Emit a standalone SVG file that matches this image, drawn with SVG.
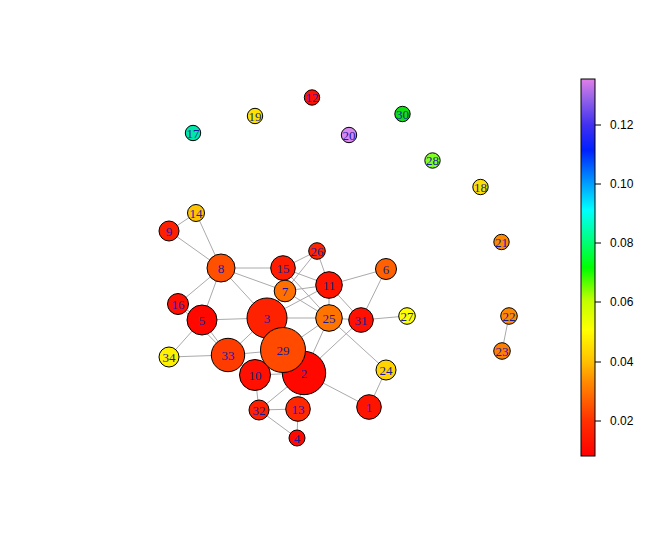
<svg xmlns="http://www.w3.org/2000/svg" width="650" height="550" viewBox="0 0 650 550">
<defs>
<linearGradient id="pal" gradientUnits="userSpaceOnUse" x1="0" y1="456" x2="0" y2="79">
<stop offset="0" stop-color="#ff0000"/>
<stop offset="0.093" stop-color="#ff3000"/>
<stop offset="0.202" stop-color="#ff9000"/>
<stop offset="0.249" stop-color="#ffc000"/>
<stop offset="0.334" stop-color="#ffff00"/>
<stop offset="0.414" stop-color="#c0ff00"/>
<stop offset="0.499" stop-color="#00ff00"/>
<stop offset="0.573" stop-color="#00ff80"/>
<stop offset="0.653" stop-color="#00ffff"/>
<stop offset="0.721" stop-color="#00a0ff"/>
<stop offset="0.812" stop-color="#0020ff"/>
<stop offset="0.878" stop-color="#4030f0"/>
<stop offset="0.944" stop-color="#9060e8"/>
<stop offset="1" stop-color="#e080e8"/>
</linearGradient>
<style>
.e line{stroke:#aaaaaa;stroke-width:1}
.n circle{stroke:#000;stroke-width:1}
.n text{font-family:"Liberation Serif","Times New Roman",serif;font-size:13px;fill:#1a1aa0;text-anchor:middle}
.tk{stroke:#000;stroke-width:1}
.lb{font-family:"Liberation Sans",Arial,sans-serif;font-size:12px;fill:#000}
</style>
</defs>
<rect width="650" height="550" fill="#fff"/>
<g id="edges" class="e">
<line x1="169" y1="231" x2="196" y2="213"/>
<line x1="169" y1="231" x2="221" y2="268"/>
<line x1="196" y1="213" x2="221" y2="268"/>
<line x1="221" y1="268" x2="283" y2="268"/>
<line x1="221" y1="268" x2="285" y2="291"/>
<line x1="221" y1="268" x2="267" y2="318"/>
<line x1="221" y1="268" x2="178" y2="304"/>
<line x1="221" y1="268" x2="202" y2="320"/>
<line x1="178" y1="304" x2="202" y2="320"/>
<line x1="202" y1="320" x2="267" y2="318"/>
<line x1="202" y1="320" x2="228" y2="355"/>
<line x1="178" y1="304" x2="228" y2="355"/>
<line x1="169" y1="357" x2="202" y2="320"/>
<line x1="169" y1="357" x2="228" y2="355"/>
<line x1="228" y1="355" x2="267" y2="318"/>
<line x1="228" y1="355" x2="283" y2="350"/>
<line x1="228" y1="355" x2="255" y2="375"/>
<line x1="255" y1="375" x2="283" y2="350"/>
<line x1="255" y1="375" x2="304" y2="373"/>
<line x1="255" y1="375" x2="259" y2="410"/>
<line x1="259" y1="410" x2="304" y2="373"/>
<line x1="259" y1="410" x2="298" y2="409"/>
<line x1="259" y1="410" x2="297" y2="438"/>
<line x1="298" y1="409" x2="297" y2="438"/>
<line x1="298" y1="409" x2="304" y2="373"/>
<line x1="304" y1="373" x2="369" y2="407"/>
<line x1="369" y1="407" x2="386" y2="370"/>
<line x1="283" y1="350" x2="304" y2="373"/>
<line x1="283" y1="350" x2="267" y2="318"/>
<line x1="283" y1="350" x2="329" y2="318"/>
<line x1="329" y1="318" x2="304" y2="373"/>
<line x1="361" y1="320" x2="304" y2="373"/>
<line x1="267" y1="318" x2="329" y2="318"/>
<line x1="267" y1="318" x2="285" y2="291"/>
<line x1="267" y1="318" x2="329" y2="285"/>
<line x1="283" y1="268" x2="317" y2="251"/>
<line x1="283" y1="268" x2="329" y2="285"/>
<line x1="283" y1="268" x2="329" y2="318"/>
<line x1="283" y1="268" x2="285" y2="291"/>
<line x1="285" y1="291" x2="317" y2="251"/>
<line x1="285" y1="291" x2="329" y2="285"/>
<line x1="285" y1="291" x2="329" y2="318"/>
<line x1="317" y1="251" x2="329" y2="285"/>
<line x1="329" y1="285" x2="329" y2="318"/>
<line x1="329" y1="285" x2="386" y2="269"/>
<line x1="329" y1="285" x2="361" y2="320"/>
<line x1="386" y1="269" x2="361" y2="320"/>
<line x1="329" y1="318" x2="361" y2="320"/>
<line x1="361" y1="320" x2="407" y2="316"/>
<line x1="329" y1="318" x2="386" y2="370"/>
<line x1="509" y1="316" x2="502" y2="351"/>
</g>
<g id="n1" class="n"><circle cx="369" cy="407" r="12.3" fill="#ff1400"/><text x="369" y="407" dy="0.35em">1</text></g>
<g id="n2" class="n"><circle cx="304" cy="373" r="21.7" fill="#ff0800"/><text x="304" y="373" dy="0.35em">2</text></g>
<g id="n3" class="n"><circle cx="267" cy="318" r="20" fill="#ff2200"/><text x="267" y="318" dy="0.35em">3</text></g>
<g id="n4" class="n"><circle cx="297" cy="438" r="8" fill="#ff0a00"/><text x="297" y="438" dy="0.35em">4</text></g>
<g id="n5" class="n"><circle cx="202" cy="320" r="15" fill="#ff0800"/><text x="202" y="320" dy="0.35em">5</text></g>
<g id="n6" class="n"><circle cx="386" cy="269" r="10.5" fill="#ff6000"/><text x="386" y="269" dy="0.35em">6</text></g>
<g id="n7" class="n"><circle cx="285" cy="291" r="10.8" fill="#ff7000"/><text x="285" y="291" dy="0.35em">7</text></g>
<g id="n8" class="n"><circle cx="221" cy="268" r="14" fill="#ff5000"/><text x="221" y="268" dy="0.35em">8</text></g>
<g id="n9" class="n"><circle cx="169" cy="231" r="10" fill="#ff2000"/><text x="169" y="231" dy="0.35em">9</text></g>
<g id="n10" class="n"><circle cx="255" cy="375" r="15.5" fill="#ff1000"/><text x="255" y="375" dy="0.35em">10</text></g>
<g id="n11" class="n"><circle cx="329" cy="285" r="13.3" fill="#ff1400"/><text x="329" y="285" dy="0.35em">11</text></g>
<g id="n12" class="n"><circle cx="312" cy="97.5" r="7.7" fill="#ff1000"/><text x="312" y="97.5" dy="0.35em">12</text></g>
<g id="n13" class="n"><circle cx="298" cy="409" r="12.3" fill="#ff2800"/><text x="298" y="409" dy="0.35em">13</text></g>
<g id="n14" class="n"><circle cx="196" cy="213" r="8.5" fill="#ffc400"/><text x="196" y="213" dy="0.35em">14</text></g>
<g id="n15" class="n"><circle cx="283" cy="268" r="12.3" fill="#ff1c00"/><text x="283" y="268" dy="0.35em">15</text></g>
<g id="n16" class="n"><circle cx="178" cy="304" r="10.5" fill="#ff1000"/><text x="178" y="304" dy="0.35em">16</text></g>
<g id="n17" class="n"><circle cx="193" cy="133" r="7.7" fill="#00e8a8"/><text x="193" y="133" dy="0.35em">17</text></g>
<g id="n18" class="n"><circle cx="480.5" cy="187" r="7.7" fill="#ffe000"/><text x="480.5" y="187" dy="0.35em">18</text></g>
<g id="n19" class="n"><circle cx="255" cy="116" r="7.7" fill="#ffe000"/><text x="255" y="116" dy="0.35em">19</text></g>
<g id="n20" class="n"><circle cx="349" cy="135" r="7.7" fill="#d888f0"/><text x="349" y="135" dy="0.35em">20</text></g>
<g id="n21" class="n"><circle cx="501.5" cy="242" r="7.7" fill="#ff8800"/><text x="501.5" y="242" dy="0.35em">21</text></g>
<g id="n22" class="n"><circle cx="509" cy="316" r="8.3" fill="#ff8800"/><text x="509" y="316" dy="0.35em">22</text></g>
<g id="n23" class="n"><circle cx="502" cy="351" r="8.3" fill="#ff8000"/><text x="502" y="351" dy="0.35em">23</text></g>
<g id="n24" class="n"><circle cx="386" cy="370" r="10" fill="#ffd400"/><text x="386" y="370" dy="0.35em">24</text></g>
<g id="n25" class="n"><circle cx="329" cy="318" r="13.3" fill="#ff7400"/><text x="329" y="318" dy="0.35em">25</text></g>
<g id="n26" class="n"><circle cx="317" cy="251" r="8.3" fill="#ff2400"/><text x="317" y="251" dy="0.35em">26</text></g>
<g id="n27" class="n"><circle cx="407" cy="316" r="8.3" fill="#ffff00"/><text x="407" y="316" dy="0.35em">27</text></g>
<g id="n28" class="n"><circle cx="432.5" cy="160.5" r="7.7" fill="#80ff20"/><text x="432.5" y="160.5" dy="0.35em">28</text></g>
<g id="n29" class="n"><circle cx="283" cy="350" r="22.5" fill="#ff4a00"/><text x="283" y="350" dy="0.35em">29</text></g>
<g id="n30" class="n"><circle cx="402.5" cy="114" r="7.7" fill="#10e010"/><text x="402.5" y="114" dy="0.35em">30</text></g>
<g id="n31" class="n"><circle cx="361" cy="320" r="12.3" fill="#ff1000"/><text x="361" y="320" dy="0.35em">31</text></g>
<g id="n32" class="n"><circle cx="259" cy="410" r="10" fill="#ff2000"/><text x="259" y="410" dy="0.35em">32</text></g>
<g id="n33" class="n"><circle cx="228" cy="355" r="16.7" fill="#ff3c00"/><text x="228" y="355" dy="0.35em">33</text></g>
<g id="n34" class="n"><circle cx="169" cy="357" r="10" fill="#fff000"/><text x="169" y="357" dy="0.35em">34</text></g>
<g id="legend">
<rect x="581" y="79" width="14" height="377" fill="url(#pal)" stroke="#000" stroke-width="1"/>
<line class="tk" x1="595" y1="125" x2="601" y2="125"/>
<line class="tk" x1="595" y1="184" x2="601" y2="184"/>
<line class="tk" x1="595" y1="243" x2="601" y2="243"/>
<line class="tk" x1="595" y1="302" x2="601" y2="302"/>
<line class="tk" x1="595" y1="362" x2="601" y2="362"/>
<line class="tk" x1="595" y1="421" x2="601" y2="421"/>
<text class="lb" x="610" y="129">0.12</text>
<text class="lb" x="610" y="188">0.10</text>
<text class="lb" x="610" y="247">0.08</text>
<text class="lb" x="610" y="306">0.06</text>
<text class="lb" x="610" y="366">0.04</text>
<text class="lb" x="610" y="425">0.02</text>
</g>
</svg>
